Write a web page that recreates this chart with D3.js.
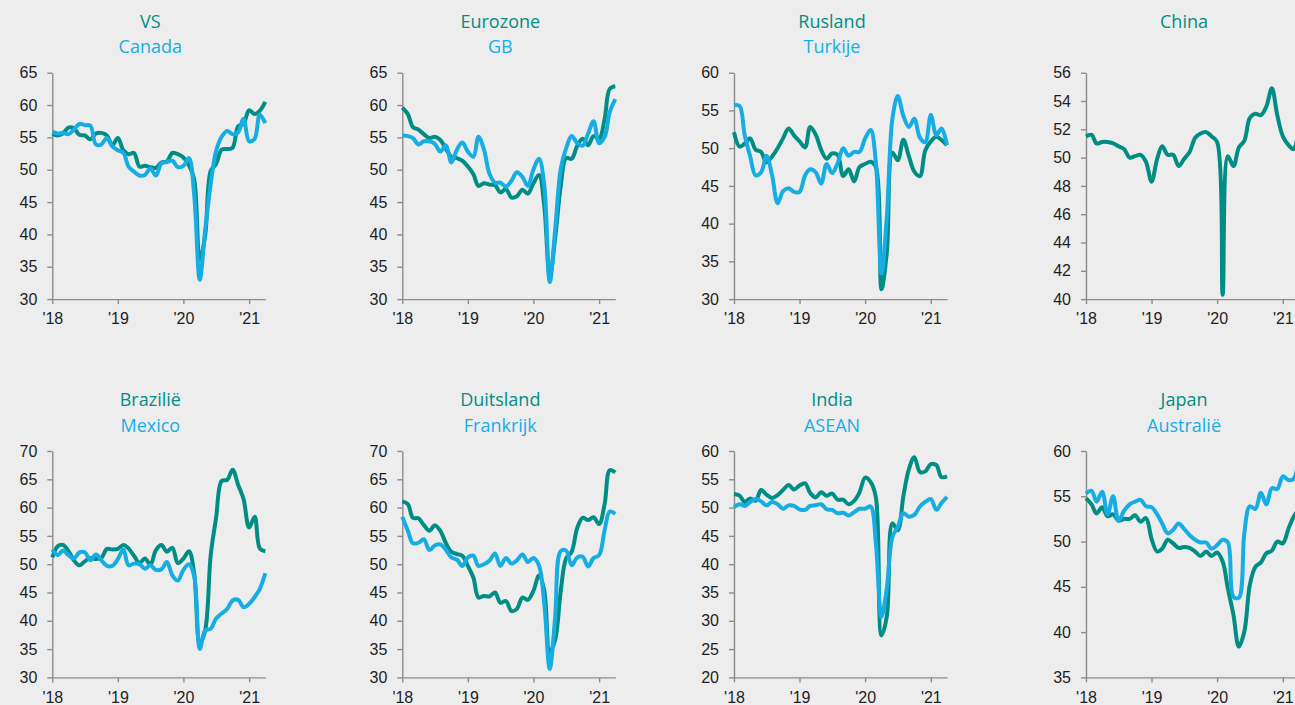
<!DOCTYPE html>
<html>
<head>
<meta charset="utf-8">
<script src="https://cdn.jsdelivr.net/npm/d3@7"></script>
<style>
  body { margin: 0; background: #ededed; overflow: hidden; }
  svg { display: block; }
  .axis path, .axis line { stroke: #8c8c8c; stroke-width: 1.4px; }
  .axis text { font-family: "Liberation Sans", Arial, sans-serif; font-size: 16px; fill: #1e1e1e; }
  .title { font-family: "Open Sans", "Noto Sans", sans-serif; font-size: 18px; text-anchor: middle; }
</style>
</head>
<body>
<div id="chart"></div>
<script>
// PMI manufacturing, monthly Jan 2018 - Apr 2021
const startMonth = new Date(2018, 0, 1);
const endMonth = new Date(2021, 3, 1);
const yearTicks = [new Date(2018,0,1), new Date(2019,0,1), new Date(2020,0,1), new Date(2021,0,1)];

const titles1 = ["VS", "Eurozone", "Rusland", "China", "Brazilië", "Duitsland", "India", "Japan"];
const titles2 = ["Canada", "GB", "Turkije", null, "Mexico", "Frankrijk", "ASEAN", "Australië"];
const yDomains = [[30,65], [30,65], [30,60], [40,56], [30,70], [30,70], [20,60], [35,60]];
const yTickSteps = [5, 5, 5, 2, 5, 5, 5, 5];

const vs = [55.5,55.3,55.6,56.5,56.4,55.4,55.3,54.7,55.6,55.7,55.3,53.8,
  54.9,53.0,52.4,52.6,50.5,50.6,50.4,50.3,51.1,51.3,52.6,52.4,
  51.9,50.7,48.5,36.1,39.8,49.8,50.9,53.1,53.2,53.4,56.7,57.1,
  59.2,58.6,59.1,60.5];
const canada = [55.9,55.6,55.7,55.5,56.2,57.1,56.9,56.8,53.9,53.9,54.9,53.6,
  53.0,52.6,50.5,49.7,49.1,49.2,50.2,49.1,51.0,51.2,51.4,50.4,
  50.6,51.8,46.1,33.0,40.6,47.8,52.9,55.1,56.0,55.5,55.8,57.9,
  54.4,54.8,58.5,57.2];
const eurozone = [59.6,58.6,56.6,56.2,55.5,54.9,55.1,54.6,53.2,52.0,51.8,51.4,
  50.5,49.3,47.5,47.9,47.7,47.6,46.5,47.0,45.7,45.9,46.9,46.3,
  47.9,49.2,44.5,33.4,39.4,47.4,51.8,51.7,53.7,54.8,53.8,55.2,
  54.8,57.9,62.5,62.9];
const gb = [55.3,55.2,54.9,53.9,54.4,54.4,54.0,52.8,53.8,51.1,53.1,54.2,
  52.8,52.0,55.1,53.1,49.4,48.0,48.0,47.4,48.3,49.6,48.9,47.5,
  50.0,51.7,47.8,32.6,40.7,50.1,53.3,55.2,54.1,53.7,55.6,57.5,
  54.1,55.1,58.9,60.9];
const rusland = [52.1,50.2,50.6,51.3,49.8,49.5,48.1,48.9,50.0,51.3,52.6,51.7,
  50.9,50.1,52.8,51.8,49.8,48.6,49.3,49.1,46.3,47.2,45.6,47.5,
  47.9,48.2,47.5,31.3,36.2,49.4,48.4,51.1,48.9,46.9,46.3,49.7,
  50.9,51.5,51.1,50.4];
const turkije = [55.7,55.6,51.8,48.9,46.4,46.8,49.0,46.4,42.7,44.3,44.7,44.2,
  44.2,46.4,47.2,46.8,45.3,47.9,46.7,48.0,50.0,49.0,49.5,49.5,
  51.3,52.4,48.1,33.4,40.9,53.9,56.9,54.3,52.8,53.9,51.4,50.8,
  54.4,51.7,52.6,50.4];
const china = [51.5,51.6,51.0,51.1,51.1,51.0,50.8,50.6,50.0,50.1,50.2,49.7,
  48.3,49.9,50.8,50.2,50.2,49.4,49.9,50.4,51.4,51.7,51.8,51.5,
  51.1,40.3,50.1,49.4,50.7,51.2,52.8,53.1,53.0,53.6,54.9,53.0,
  51.5,50.9,50.6,51.9];
const brazilie = [51.2,53.2,53.4,52.3,50.7,49.8,50.5,51.1,50.9,51.1,52.7,52.6,
  52.7,53.4,52.8,51.5,50.2,51.0,49.9,52.5,53.4,52.2,52.9,50.2,
  51.0,52.3,48.4,36.0,38.3,51.6,58.2,64.7,64.9,66.7,64.0,61.5,
  56.5,58.4,52.8,52.3];
const mexico = [52.6,51.6,52.4,51.6,51.0,52.1,52.1,50.7,51.7,50.7,49.7,49.7,
  50.9,52.6,49.8,50.1,50.0,49.2,49.8,49.0,49.1,50.4,48.0,47.1,
  49.0,50.0,47.9,35.0,38.3,38.6,40.4,41.3,42.1,43.6,43.7,42.4,
  43.0,44.2,45.6,48.4];
const duitsland = [61.1,60.6,58.2,58.1,56.9,55.9,56.9,55.9,53.7,52.2,51.8,51.5,
  49.7,47.6,44.1,44.4,44.3,45.0,43.2,43.5,41.7,42.1,44.1,43.7,
  45.3,48.0,45.4,34.5,36.6,45.2,51.0,52.2,56.4,58.2,57.8,58.3,
  57.1,60.7,66.6,66.2];
const frankrijk = [58.4,55.9,53.7,53.8,54.4,52.5,53.3,53.5,52.5,51.2,50.8,49.7,
  51.2,51.5,49.7,50.0,50.6,51.9,49.7,51.1,50.1,50.7,51.7,50.4,
  51.1,49.8,43.2,31.5,40.6,52.3,52.4,49.8,51.2,51.3,49.6,51.1,
  51.6,56.1,59.3,58.9];
const india = [52.4,52.1,51.0,51.6,51.2,53.1,52.3,51.7,52.2,53.1,54.0,53.2,
  53.9,54.3,52.6,51.8,52.7,52.1,52.5,51.4,51.4,50.6,51.2,52.7,
  55.3,54.5,51.8,27.4,30.8,47.2,46.0,52.0,56.8,58.9,56.3,56.4,
  57.7,57.5,55.4,55.5];
const asean = [50.1,50.6,50.3,51.0,51.5,51.1,50.4,51.0,50.6,49.8,50.4,50.3,
  49.7,49.6,50.3,50.4,50.6,49.7,49.6,49.0,49.1,48.6,49.2,49.8,
  49.8,50.2,43.7,30.7,35.8,44.8,46.6,49.0,48.4,48.7,50.2,51.0,
  51.5,49.6,50.8,51.9];
const japan = [54.8,54.1,53.1,53.8,52.8,53.0,52.3,52.5,52.5,52.9,52.2,52.6,
  50.3,48.9,49.2,50.2,49.8,49.3,49.4,49.3,48.9,48.4,48.9,48.4,
  48.8,47.8,44.8,41.9,38.4,40.1,45.2,47.2,47.7,48.7,49.0,50.0,
  49.8,51.4,52.7,53.6];
const australie = [55.3,55.6,54.4,55.5,53.0,55.0,52.3,53.4,54.1,54.4,54.6,53.9,
  53.8,53.0,52.0,50.9,51.3,52.0,51.4,50.7,50.2,49.9,49.9,49.2,
  49.6,50.2,49.9,43.9,43.8,51.0,53.9,53.6,55.4,54.1,55.9,55.8,
  57.2,56.8,56.9,59.4];

const series1 = [vs, eurozone, rusland, china, brazilie, duitsland, india, japan];
const series2 = [canada, gb, turkije, null, mexico, frankrijk, asean, australie];

const W = 1295, H = 705;
const teal = "#008d84", blue = "#16ade4";
const colLeft = [52.3, 402.3, 734, 1086];
const rowTop = [72.7, 451];
const innerW = 213, innerH = 226.4;

const months = d3.timeMonth.range(startMonth, d3.timeMonth.offset(endMonth, 1));

const svg = d3.select("#chart").append("svg")
  .attr("width", W).attr("height", H);

const x = d3.scaleTime().domain([startMonth, endMonth]).range([0, innerW]);

titles1.forEach((t1, i) => {
  const g = svg.append("g")
    .attr("transform", `translate(${colLeft[i % 4]},${rowTop[Math.floor(i / 4)]})`);

  const [lo, hi] = yDomains[i];
  const y = d3.scaleLinear().domain([lo, hi]).range([innerH, 0]);

  const axisX = d3.axisBottom(x)
    .tickValues(yearTicks)
    .tickFormat(d => "'" + d3.timeFormat("%y")(d))
    .tickSizeInner(5).tickSizeOuter(0).tickPadding(9);
  const axisY = d3.axisLeft(y)
    .tickValues(d3.range(lo, hi + 0.01, yTickSteps[i]))
    .tickSizeInner(5).tickSizeOuter(0).tickPadding(10);

  g.append("g").attr("class", "axis").call(axisY);
  g.append("g").attr("class", "axis")
    .attr("transform", `translate(0,${innerH})`).call(axisX);

  const line = d3.line()
    .x((d, k) => x(months[k]))
    .y(d => y(d))
    .curve(d3.curveCatmullRom.alpha(0.5));

  [[series1[i], teal], [series2[i], blue]].forEach(([vals, col]) => {
    if (!vals) return;
    g.append("path")
      .datum(vals)
      .attr("d", line)
      .attr("fill", "none")
      .attr("stroke", col)
      .attr("stroke-width", 4)
      .attr("stroke-linejoin", "round");
  });

  g.append("text").attr("class", "title")
    .attr("x", 98).attr("y", -45)
    .attr("fill", teal).text(t1);
  if (titles2[i]) {
    g.append("text").attr("class", "title")
      .attr("x", 98).attr("y", -19.4)
      .attr("fill", blue).text(titles2[i]);
  }
});
</script>
</body>
</html>
